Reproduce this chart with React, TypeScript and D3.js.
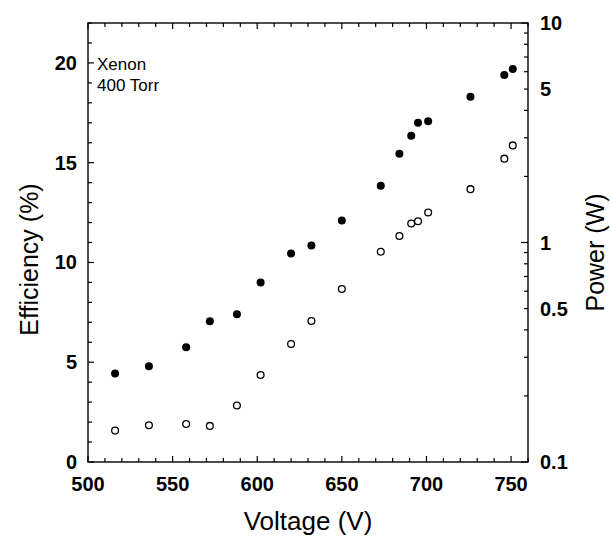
import { useEffect, useRef } from 'react'
import * as d3 from 'd3'

// voltages shared by both series (V)
const voltage = [516, 536, 558, 572, 588, 602, 620, 632, 650, 673, 684, 691, 695, 701, 726, 746, 751]
// filled circles, left axis
const efficiency = [4.43, 4.8, 5.75, 7.05, 7.4, 9.0, 10.45, 10.85, 12.1, 13.85, 15.45, 16.35, 17.0, 17.08, 18.3, 19.4, 19.7]
// open circles, right axis (log)
const power = [0.139, 0.147, 0.149, 0.146, 0.181, 0.249, 0.345, 0.439, 0.614, 0.908, 1.07, 1.22, 1.25, 1.37, 1.75, 2.41, 2.77]

const xTicks = [500, 550, 600, 650, 700, 750]
const effTicks = [0, 5, 10, 15, 20]
const powTicks = [0.1, 0.5, 1, 5, 10]
const powLabels = ['0.1', '0.5', '1', '5', '10']

const App = () => {
  const svgRef = useRef(null)

  useEffect(() => {
    const width = 611
    const height = 537
    const margin = { top: 23, left: 88, right: 83, bottom: 75 }

    const svg = d3.select(svgRef.current)
    svg.selectAll('*').remove()
    svg.attr('width', width).attr('height', height)

    const x = d3.scaleLinear().domain([500, 760]).range([margin.left, width - margin.right])
    const yL = d3.scaleLinear().domain([0, 22]).range([height - margin.bottom, margin.top])
    const yR = d3.scaleLog().domain([0.1, 10]).range([height - margin.bottom, margin.top])

    const font = "'Liberation Sans', Arial, sans-serif"
    const x0 = margin.left
    const x1 = width - margin.right
    const y0 = height - margin.bottom
    const y1 = margin.top

    const g = svg.append('g').attr('stroke', '#000')

    // frame
    g.append('rect')
      .attr('x', x0)
      .attr('y', y1)
      .attr('width', x1 - x0)
      .attr('height', y0 - y1)
      .attr('fill', 'none')
      .attr('stroke-width', 1.4)

    // x ticks (bottom and top), inward
    d3.range(500, 761, 10).forEach((v) => {
      const len = v % 50 === 0 ? 6 : 4
      g.append('line').attr('x1', x(v)).attr('x2', x(v)).attr('y1', y0).attr('y2', y0 - len).attr('stroke-width', 1.2)
      g.append('line').attr('x1', x(v)).attr('x2', x(v)).attr('y1', y1).attr('y2', y1 + len).attr('stroke-width', 1.2)
    })

    // left ticks
    d3.range(0, 23, 1).forEach((v) => {
      const len = v % 5 === 0 ? 6 : 4
      g.append('line').attr('x1', x0).attr('x2', x0 + len).attr('y1', yL(v)).attr('y2', yL(v)).attr('stroke-width', 1.2)
    })

    // right log ticks
    const logMinor = []
    ;[0.1, 1].forEach((d) => {
      for (let k = 1; k < 10; k++) logMinor.push(d * k)
    })
    logMinor.push(10)
    logMinor.forEach((v) => {
      const major = Math.abs(Math.log10(v) - Math.round(Math.log10(v))) < 1e-6
      const len = major ? 7 : 4
      g.append('line').attr('x1', x1).attr('x2', x1 - len).attr('y1', yR(v)).attr('y2', yR(v)).attr('stroke-width', 1.2)
    })

    const t = svg.append('g').attr('font-family', font).attr('fill', '#000')

    t.selectAll('.xt')
      .data(xTicks)
      .enter()
      .append('text')
      .attr('x', (d) => x(d))
      .attr('y', y0 + 29)
      .attr('text-anchor', 'middle')
      .attr('font-size', 20)
      .attr('font-weight', 'bold')
      .text((d) => d)

    t.selectAll('.yl')
      .data(effTicks)
      .enter()
      .append('text')
      .attr('x', x0 - 11)
      .attr('y', (d) => yL(d) + 7)
      .attr('text-anchor', 'end')
      .attr('font-size', 20)
      .attr('font-weight', 'bold')
      .text((d) => d)

    t.selectAll('.yr')
      .data(powTicks)
      .enter()
      .append('text')
      .attr('x', x1 + 12)
      .attr('y', (d) => yR(d) + 7)
      .attr('text-anchor', 'start')
      .attr('font-size', 20)
      .attr('font-weight', 'bold')
      .text((d, i) => powLabels[i])

    // axis titles
    t.append('text')
      .attr('x', (x0 + x1) / 2)
      .attr('y', 530)
      .attr('text-anchor', 'middle')
      .attr('font-size', 26)
      .text('Voltage (V)')

    t.append('text')
      .attr('transform', `translate(38, ${(y0 + y1) / 2 + 17}) rotate(-90)`)
      .attr('text-anchor', 'middle')
      .attr('font-size', 25)
      .text('Efficiency (%)')

    t.append('text')
      .attr('transform', `translate(604, ${(y0 + y1) / 2 + 10}) rotate(-90)`)
      .attr('text-anchor', 'middle')
      .attr('font-size', 25)
      .text('Power (W)')

    // annotation
    t.append('text').attr('x', 97).attr('y', 70).attr('font-size', 17).text('Xenon')
    t.append('text').attr('x', 97).attr('y', 91).attr('font-size', 17).text('400 Torr')

    // points
    const p = svg.append('g')
    p.selectAll('.eff')
      .data(voltage)
      .enter()
      .append('circle')
      .attr('cx', (d) => x(d))
      .attr('cy', (d, i) => yL(efficiency[i]))
      .attr('r', 4)
      .attr('fill', '#000')

    p.selectAll('.pow')
      .data(voltage)
      .enter()
      .append('circle')
      .attr('cx', (d) => x(d))
      .attr('cy', (d, i) => yR(power[i]))
      .attr('r', 3.4)
      .attr('fill', '#fff')
      .attr('stroke', '#000')
      .attr('stroke-width', 1.3)
  }, [])

  return (
    <div style={{ position: 'absolute', left: 0, top: 0 }}>
      <svg ref={svgRef}></svg>
    </div>
  )
}

export default App
